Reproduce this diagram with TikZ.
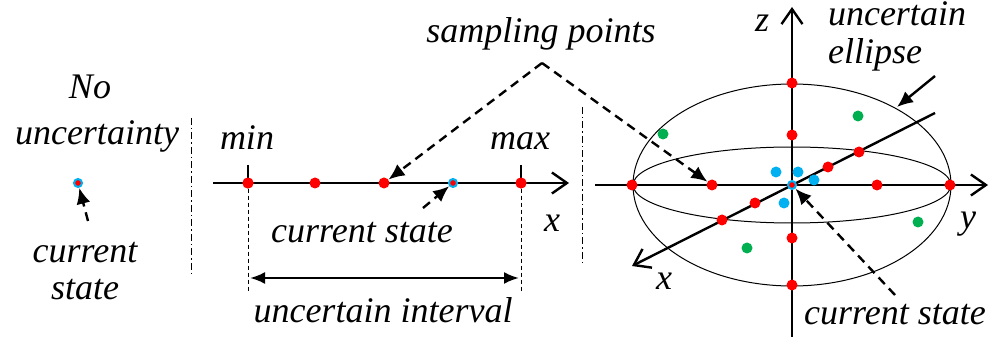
\documentclass[tikz,border=0pt]{standalone}
\usepackage{fontspec}
\setmainfont{Liberation Serif}[ItalicFont={Liberation Serif Italic}]
\usetikzlibrary{arrows.meta}
\definecolor{skyb}{HTML}{00B0F0}
\definecolor{grn}{HTML}{00B050}
\begin{document}
\begin{tikzpicture}[x=1pt,y=-1pt,
  lbl/.style={font=\fontsize{36}{40}\selectfont\itshape, inner sep=0pt, anchor=base},
  rdot/.style={circle, fill=red, minimum size=11pt, inner sep=0pt},
  bdot/.style={circle, fill=skyb, minimum size=11pt, inner sep=0pt},
  gdot/.style={circle, fill=grn, minimum size=11pt, inner sep=0pt},
  cur/.style={circle, fill=red, draw=skyb, line width=2pt, minimum size=8pt, inner sep=0pt},
  axis/.style={line width=2.4pt, -{Straight Barb[length=15pt,width=21pt]}},
  sep/.style={line width=0.9pt, dash pattern=on 7pt off 3pt on 1.5pt off 3pt},
  thindash/.style={line width=0.9pt, dash pattern=on 4pt off 3pt},
  darrow/.style={line width=2.4pt, dash pattern=on 9pt off 6pt, -{Latex[length=16pt,width=14pt]}},
  sarrow/.style={line width=2.4pt, -{Latex[length=16pt,width=14pt]}},
  ell/.style={line width=1pt}
]
\useasboundingbox (0,0) rectangle (996,347);

% ---------- left panel ----------
\node[lbl] (no) at (90,99) {No};
\node[lbl] (unc) at (97,145) {uncertainty};
\node[cur] (c0) at (78,183) {};
\coordinate (c0s) at (88,221);
\draw[darrow] (c0s) -- (c0);
\node[lbl] (cs0a) at (85,263) {current};
\node[lbl] (cs0b) at (85,300) {state};
\coordinate (sep1t) at (191,118);
\coordinate (sep1b) at (191,277);
\draw[sep] (sep1t) -- (sep1b);

% ---------- middle panel ----------
\coordinate (ax1s) at (213,183);
\coordinate (ax1e) at (569,183);
\draw[axis] (ax1s) -- (ax1e);
\coordinate (tmin) at (248,165);
\coordinate (tmax) at (521,165);
\coordinate (bmin) at (248,293);
\coordinate (bmax) at (521,293);
\node[rdot] (m1) at (248,183) {};
\node[rdot] (m2) at (315,183) {};
\node[rdot] (m3) at (384,183) {};
\node[rdot] (m5) at (521,183) {};
\draw[line width=2.4pt] (tmin) -- (m1.center);
\draw[line width=2.4pt] (tmax) -- (m5.center);
\node[rdot] at (248,183) {};
\node[rdot] at (521,183) {};
\node[cur] (m4) at (453,183) {};
\draw[thindash] (m1.south) -- (bmin);
\draw[thindash] (m5.south) -- (bmax);
\coordinate (ia) at (250,278);
\coordinate (ib) at (519,278);
\draw[line width=2.4pt, {Latex[length=15pt,width=12pt]}-{Latex[length=15pt,width=12pt]}] (ia) -- (ib);
\node[lbl] (min) at (247,150) {min};
\node[lbl] (max) at (520,150) {max};
\node[lbl] (xm) at (552,232) {x};
\node[lbl] (csm) at (362,243) {current state};
\node[lbl] (ui) at (383,323) {uncertain interval};
\coordinate (cms) at (423,208);
\draw[darrow] (cms) -- (m4);
\coordinate (sep2t) at (582,107);
\coordinate (sep2b) at (582,265);
\draw[sep] (sep2t) -- (sep2b);

% ---------- sampling points ----------
\node[lbl] (sp) at (541,43) {sampling points};
\coordinate (spa) at (542,63);

% ---------- 3D panel ----------
\coordinate (O) at (792,185);
\draw[ell] (O) ellipse [x radius=159, y radius=101];
\draw[ell] (O) ellipse [x radius=159, y radius=38];
\coordinate (zb) at (792,337);
\coordinate (zt) at (792,7);
\coordinate (yl) at (595,185);
\coordinate (yr) at (988,185);
\coordinate (xb) at (935,113);
\coordinate (xf) at (632,266);
\draw[axis] (zb) -- (zt);
\draw[axis] (yl) -- (yr);
\draw[axis] (xb) -- (xf);
% red dots
\node[rdot] (z1) at (792,83) {};
\node[rdot] (z2) at (792,135) {};
\node[rdot] (z3) at (792,238) {};
\node[rdot] (z4) at (792,285) {};
\node[rdot] (y1) at (632,185) {};
\node[rdot] (y2) at (712,185) {};
\node[rdot] (y3) at (877,185) {};
\node[rdot] (y4) at (950,185) {};
\node[rdot] (x1) at (859,152) {};
\node[rdot] (x2) at (828,167) {};
\node[rdot] (x3) at (755,203) {};
\node[rdot] (x4) at (722,220) {};
% blue dots
\node[bdot] (b1) at (776,172) {};
\node[bdot] (b2) at (798,172) {};
\node[bdot] (b3) at (814,180) {};
\node[bdot] (b4) at (784,203) {};
% green dots
\node[gdot] (g1) at (663,134) {};
\node[gdot] (g2) at (858,116) {};
\node[gdot] (g3) at (918,222) {};
\node[gdot] (g4) at (747,248) {};
\node[cur] (c3) at (792,185) {};
% labels
\node[lbl] (zl) at (762,32) {z};
\node[lbl] (ylab) at (968,229) {y};
\node[lbl] (xlab) at (664,290) {x};
\node[lbl] (ue1) at (897,26) {uncertain};
\node[lbl] (ue2) at (875,64) {ellipse};
\coordinate (ues) at (935,76);
\coordinate (uet) at (897,107);
\draw[sarrow] (ues) -- (uet);
\node[lbl] (cs3) at (895,325) {current state};
\coordinate (c3s) at (895,295);
\draw[darrow] (c3s) -- (c3);

% sampling point arrows
\draw[darrow] (spa) -- (m3);
\draw[darrow] (spa) -- (y2);
\end{tikzpicture}
\end{document}
